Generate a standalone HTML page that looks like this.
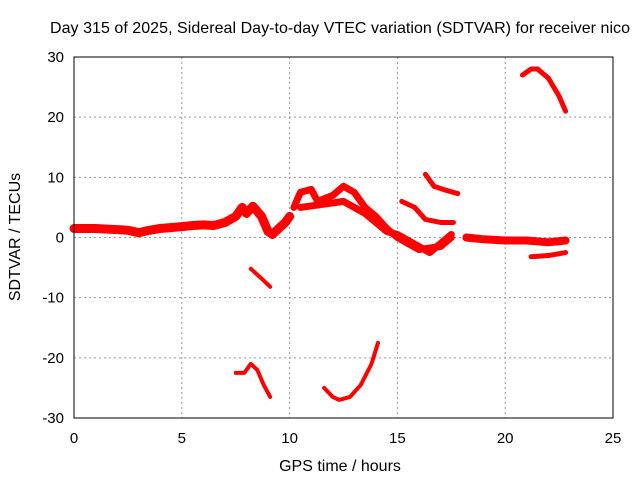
<!DOCTYPE html>
<html><head><meta charset="utf-8"><style>
body{margin:0;background:#fff;}
svg text{font-family:"Liberation Sans",sans-serif;font-size:15px;fill:#000;}
</style></head><body>
<svg id="c" width="640" height="480" xmlns="http://www.w3.org/2000/svg">
<text x="340" y="33" text-anchor="middle" style="font-size:16px" textLength="580">Day 315 of 2025, Sidereal Day-to-day VTEC variation (SDTVAR) for receiver nico</text>
<text x="340" y="471" text-anchor="middle" style="font-size:16px">GPS time / hours</text>
<text transform="translate(20,237) rotate(-90)" text-anchor="middle" style="font-size:16px">SDTVAR / TECUs</text>
<g id="grid"></g><g id="marks"></g>
<rect x="74" y="57" width="539" height="361" fill="none" stroke="#000"/>
</svg>
<script>
const xTicks=[0,5,10,15,20,25];
const yTicks=[-30,-20,-10,0,10,20,30];
const s1=[[0,1.5],[1,1.5],[2,1.3],[2.5,1.2],[3,0.8],[3.5,1.2],[4,1.5],[5,1.8],[5.5,2],[6,2.1],[6.5,2],[7,2.5],[7.5,3.5],[7.8,5],[8,4],[8.3,5.2],[8.7,3.5],[9,1],[9.2,0.5],[9.5,1.5],[9.8,2.5],[10,3.5]];
const s2=[[10.2,5],[10.5,7.5],[11,8],[11.3,6],[12,7],[12.5,8.5],[13,7.5],[13.5,5],[14,3.5],[14.5,1.5],[15,0],[15.5,-1],[16,-2],[17,-1.5],[17.5,0]];
const s2b=[[10.5,5],[11.5,5.5],[12.5,6],[13.5,4],[14.5,1],[15,0.5],[15.5,-0.5],[16.5,-2.5],[17,-1],[17.5,0.5]];
const s3=[[15.2,6],[15.8,5],[16.3,3],[17,2.5],[17.6,2.5]];
const s4=[[16.3,10.5],[16.7,8.5],[17.3,7.8],[17.8,7.3]];
const s5=[[18.2,0],[19,-0.3],[20,-0.5],[21,-0.5],[22,-0.8],[22.8,-0.5]];
const s6=[[21.2,-3.2],[22,-3],[22.8,-2.5]];
const s7=[[20.8,27],[21.2,28],[21.5,28],[22,26.5],[22.5,23.5],[22.8,21]];
const s8=[[8.2,-5.2],[8.6,-6.5],[9.1,-8.2]];
const s9=[[7.5,-22.5],[7.9,-22.5],[8.2,-21],[8.5,-22],[8.8,-24.5],[9.1,-26.5]];
const s10=[[11.6,-25],[12,-26.5],[12.3,-27],[12.8,-26.5],[13.3,-24.5],[13.8,-21],[14.1,-17.5]];
const series=[[s1,9],[s2,7],[s2b,7],[s3,5],[s4,5],[s5,8],[s6,5],[s7,5],[s8,4],[s9,4],[s10,4]];
const X=v=>74+v*539/25, Y=v=>237.5-v*361/60;
const NS="http://www.w3.org/2000/svg";
const grid=document.getElementById('grid'), marks=document.getElementById('marks');
function mk(t,a,p){const e=document.createElementNS(NS,t);for(const k in a)e.setAttribute(k,a[k]);p.appendChild(e);return e;}
xTicks.forEach(t=>{const x=X(t);
 if(t>0&&t<25){const l=mk('line',{x1:x,x2:x,y1:57,y2:418,stroke:'#999','stroke-dasharray':'2,3'},grid);
 
 }
 const tx=mk('text',{x:x,y:443,'text-anchor':'middle'},grid);tx.textContent=t;
 
 });
yTicks.forEach(t=>{const y=Y(t);
 if(t>-30&&t<30){const l=mk('line',{x1:74,x2:613,y1:y,y2:y,stroke:'#999','stroke-dasharray':'2,3'},grid);
 
 }
 const tx=mk('text',{x:64,y:y+5,'text-anchor':'end'},grid);tx.textContent=t;
 
 });
series.forEach(([d,w])=>{
 const p=mk('polyline',{points:d.map(q=>X(q[0])+','+Y(q[1])).join(' '),fill:'none',stroke:'#f00','stroke-width':w,'stroke-linejoin':'round','stroke-linecap':'round'},marks);
 
 
});
</script>
</body></html>
